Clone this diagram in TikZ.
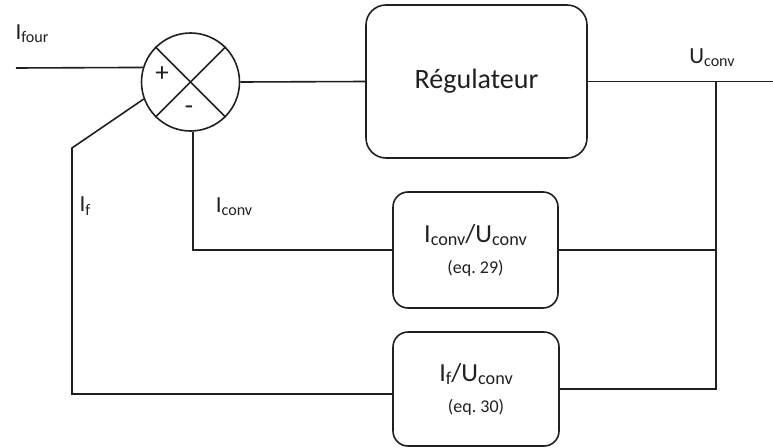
\documentclass[tikz,border=0pt]{standalone}
\usepackage{fontspec}
\setmainfont{Carlito}
\usepackage{xcolor}
\definecolor{ink}{HTML}{231F20}
\usetikzlibrary{positioning}
\newcommand\lowsub[1]{\raisebox{-0.3ex}{\scalebox{0.7}{#1}}}

\begin{document}
\begin{tikzpicture}[x=1pt, y=-1pt, line width=1.6pt, color=ink,
  block/.style={draw, rounded corners=15pt, inner sep=0pt, align=center},
  lbl/.style={font=\fontsize{23}{26}\selectfont}]
  \useasboundingbox (0,0) rectangle (773,447);
  \node[circle, draw, minimum size=98pt, inner sep=0pt] (sum) at (190.5,82) {};
  \draw (sum.north west) -- (sum.south east);
  \draw (sum.north east) -- (sum.south west);
  \node[font=\fontsize{27}{30}\selectfont] (plus) at (162,74) {+};
  \node[font=\fontsize{27}{30}\selectfont] (minus) at (189,110) {-};
  \node[block, rounded corners=20pt, minimum width=221pt, minimum height=153pt,
        font=\fontsize{28}{32}\selectfont] (reg) at (476.5,81.5) {Régulateur};
  \node[block, minimum width=165pt, minimum height=116pt] (box1) at (475.5,250)
    {{\fontsize{26}{30}\selectfont I\lowsub{conv}/U\lowsub{conv}}\\[13pt]{\fontsize{18}{20}\selectfont (eq.~29)}};
  \node[block, minimum width=166pt, minimum height=114pt] (box2) at (476,389)
    {{\fontsize{26}{30}\selectfont I\lowsub{f}/U\lowsub{conv}}\\[13pt]{\fontsize{18}{20}\selectfont (eq.~30)}};
  \node[lbl] (ifour) at (32,34) {I\lowsub{four}};
  \node[lbl] (uconv) at (712,58) {U\lowsub{conv}};
  \node[lbl] (ifb) at (85,206) {I\lowsub{f}};
  \node[lbl] (iconv) at (234,207) {I\lowsub{conv}};
  \coordinate (in) at (16,68);
  \coordinate (out) at (773,81.5);
  \coordinate (tap) at (716,0);
  \coordinate (bend) at (72,148);
  \draw (in) -- (sum.163);
  \draw (sum.east) -- (reg.west);
  \draw (reg.east) -- (out);
  \draw (tap |- reg.east) -- (tap |- box2.east) -- (box2.east);
  \draw (box1.east) -- (tap |- box1.east);
  \draw (sum.-87) |- (box1.west);
  \draw (sum.200) -- (bend) |- ([yshift=-5pt]box2.west);
\end{tikzpicture}
\end{document}
